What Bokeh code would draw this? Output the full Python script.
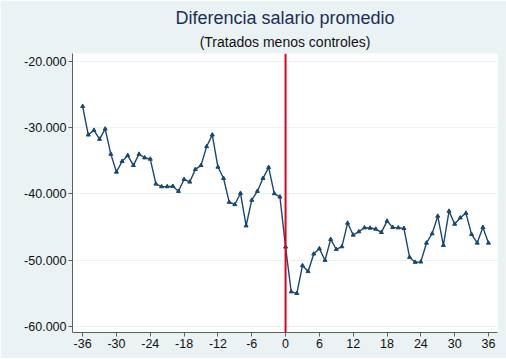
from bokeh.plotting import figure
from bokeh.models import Title, Span, Range1d, FixedTicker
from bokeh.embed import file_html
from bokeh.resources import INLINE

months = list(range(-36, 37))
diff = [-26800, -31100, -30400, -31750, -30200, -34000, -36700, -35100, -34200, -35700,
        -34000, -34550, -34750, -38500, -38900, -38900, -38850, -39600, -37800, -38200,
        -36300, -35700, -32850, -31100, -35950, -37650, -41250, -41600, -39900, -44800,
        -40950, -39600, -37650, -36000, -39950, -40450,
        -48000,
        -54750, -55000, -50800, -51700, -49050, -48250, -50000, -46850, -48350, -47950,
        -44400, -46200, -45700, -45100, -45150, -45300, -45800, -44100, -45050, -45100,
        -45200, -49550, -50300, -50250, -47400, -46000, -43350, -47750, -42600, -44550,
        -43600, -42900, -46100, -47400, -45050, -47400]

x_ticks = [-36, -30, -24, -18, -12, -6, 0, 6, 12, 18, 24, 30, 36]
x_tick_labels = ["-36", "-30", "-24", "-18", "-12", "-6", "0", "6", "12", "18", "24", "30", "36"]
y_ticks = [-60000, -50000, -40000, -30000, -20000]
y_tick_labels = ["-60.000", "-50.000", "-40.000", "-30.000", "-20.000"]

title_text = "Diferencia salario promedio"
subtitle_text = "(Tratados menos controles)"

BG = "#EAF2F3"
NAVY = "#1A476F"

p = figure(frame_width=425, frame_height=279, output_backend="svg", toolbar_location=None,
           x_range=Range1d(-37.8, 37.6), y_range=Range1d(-60900, -18830),
           min_border_left=72, min_border_right=9, min_border_top=53, min_border_bottom=26)

p.background_fill_color = "white"
p.border_fill_color = BG
p.outline_line_color = None

p.title.text = title_text
p.title.text_font = "Liberation Sans"
p.title.text_font_size = "18px"
p.title.text_font_style = "normal"
p.title.text_color = "#1E2D5A"
p.title.align = "center"
p.title.standoff = 0
sub = Title(text=subtitle_text, text_font="Liberation Sans", text_font_size="14px",
            text_font_style="normal", text_color="#111111", align="center", standoff=8)
p.add_layout(sub, "above")

# axes
p.xaxis.ticker = FixedTicker(ticks=x_ticks)
p.yaxis.ticker = FixedTicker(ticks=y_ticks)
p.xaxis.major_label_overrides = {t: l for t, l in zip(x_ticks, x_tick_labels)}
p.yaxis.major_label_overrides = {t: l for t, l in zip(y_ticks, y_tick_labels)}
for ax in (p.xaxis, p.yaxis):
    ax.axis_line_color = "#606060"
    ax.axis_line_width = 1
    ax.major_tick_line_color = "#606060"
    ax.major_tick_out = 4
    ax.major_tick_in = 0
    ax.minor_tick_line_color = None
    ax.major_label_text_font = "Liberation Sans"
    ax.major_label_text_font_size = "12.5px"
    ax.major_label_text_color = "#111111"
    ax.major_label_standoff = 2
p.yaxis.major_label_orientation = "horizontal"

p.xgrid.grid_line_color = None
p.ygrid.grid_line_color = BG
p.ygrid.grid_line_width = 1

# data
p.line(months, diff, line_color=NAVY, line_width=1.4)
p.scatter(months, diff, marker="triangle", size=4, fill_color=NAVY, line_color=NAVY)

p.add_layout(Span(location=0, dimension="height", line_color="#E3001B", line_width=2))

open("out.html", "w").write(file_html(p, INLINE))
